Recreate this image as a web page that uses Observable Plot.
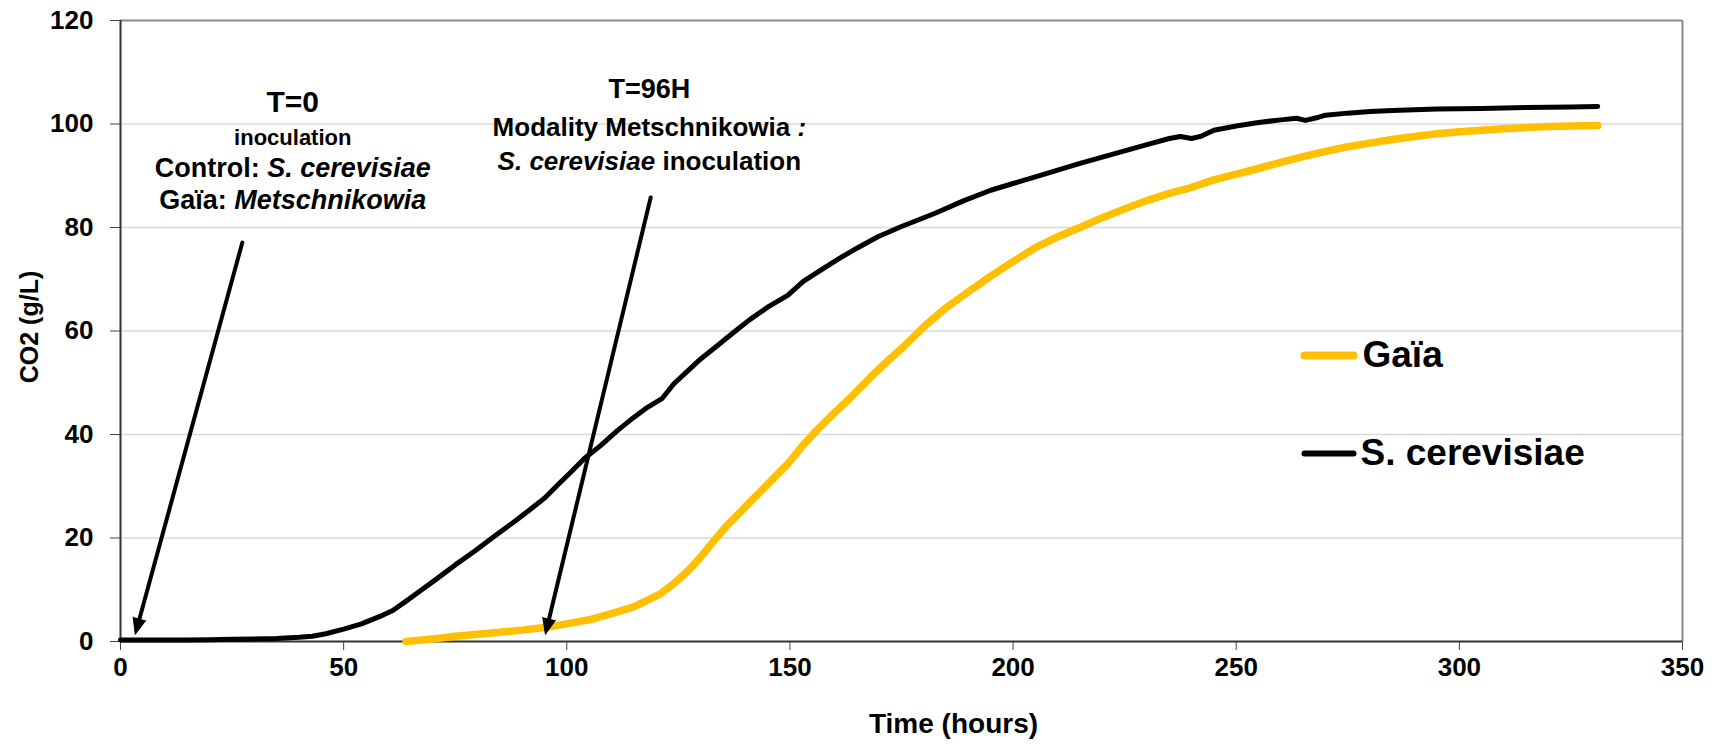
<!DOCTYPE html>
<html>
<head>
<meta charset="utf-8">
<script src="https://cdn.jsdelivr.net/npm/d3@7"></script>
<script src="https://cdn.jsdelivr.net/npm/@observablehq/plot@0.6"></script>
<style>
  html, body { margin: 0; padding: 0; background: #fff; }
  #chart { width: 1715px; height: 745px; }
</style>
</head>
<body>
<div id="chart"></div>
<script>
// ---------- data ----------
const seriesNames = ["Gaïa", "S. cerevisiae"];
const seriesColors = ["#FFC000", "#000000"];

const scTime = [0,5,10,15,20,25,30,35,40,43,46,50,54,58,61,64,67.5,71,75,79.4,84,88,91.5,95,98,101,104,107.5,111.4,115,118,121.4,124,127,130,133.5,137.5,141,145,149.5,153,157,161,165,169.7,175,182.4,189,195,200,205,210,215,220,225,230,235,237.5,240,242,245,250,255,260,263.5,265.5,268,270,275,280,285,295,305,315,325,331];
const scCO2 = [0.3,0.3,0.3,0.3,0.35,0.45,0.5,0.6,0.8,1.0,1.5,2.4,3.4,4.8,6.0,7.8,10,12.2,14.8,17.5,20.5,23,25.3,27.7,30.3,32.8,35.4,37.8,40.8,43.3,45.2,47,49.8,52.2,54.6,57,59.8,62.2,64.6,66.9,69.6,71.8,74,76,78.2,80.2,82.7,85.2,87.2,88.5,89.8,91.1,92.4,93.6,94.8,96,97.2,97.6,97.2,97.6,98.8,99.6,100.3,100.8,101.1,100.7,101.2,101.7,102.1,102.4,102.6,102.9,103.0,103.2,103.3,103.4];

const gaiaTime = [64,70,75,80,85,90,95,100,105,110,115,121,124,127,130,133,136,140,144,149.5,153,156,160,164,168,172,175,180,185,190,195,200,205,210,215,220,225,230,235,239,245,250,255,260,265,270,275,280,285,290,295,300,305,310,315,320,325,331];
const gaiaCO2 = [0,0.5,1.0,1.4,1.8,2.2,2.7,3.4,4.2,5.4,6.7,9.2,11.2,13.5,16.3,19.5,22.5,26,29.5,34.3,38,40.8,44.2,47.5,51,54.3,56.6,60.8,64.5,67.6,70.6,73.4,76.1,78.2,80.0,81.9,83.6,85.2,86.6,87.5,89.2,90.3,91.4,92.6,93.7,94.7,95.6,96.3,97,97.6,98.1,98.5,98.8,99.1,99.3,99.5,99.6,99.7];

const xTicks = [0,50,100,150,200,250,300,350];
const yTicks = [0,20,40,60,80,100,120];
const xLabel = "Time (hours)";
const yLabel = "CO2 (g/L)";

// annotation lines (text, anchor in data units: hours, g/L); *...* = italic
const noteText = ["T=0", "inoculation", "Control: *S. cerevisiae*", "Gaïa: *Metschnikowia*",
                  "T=96H", "Modality Metschnikowia *:*", "*S. cerevisiae* inoculation"];
const noteX = [38.6, 38.6, 38.6, 38.6, 118.5, 118.5, 118.5];
const noteY = [106.5, 98.9, 93.4, 87.3, 108.8, 101.3, 94.6];

// annotation arrows (from -> to, data units)
const arrowX1 = [27.3, 118.8];
const arrowY1 = [77.1, 85.8];
const arrowX2 = [3.3, 95.2];
const arrowY2 = [1.4, 1.4];

// ---------- build ----------
const W = 1715, H = 745;
const mL = 120, mR = 33, mT = 20, mB = 104;

const gaia = gaiaTime.map((t, i) => ({t, v: gaiaCO2[i], s: seriesNames[0]}));
const sc = scTime.map((t, i) => ({t, v: scCO2[i], s: seriesNames[1]}));
const notes = noteText.map((text, i) => ({text, x: noteX[i], y: noteY[i]}));
const arrows = arrowX1.map((x1, i) => ({x1, y1: arrowY1[i], x2: arrowX2[i], y2: arrowY2[i]}));

const xs = Plot.scale({x: {domain: [0, 350], range: [mL, W - mR]}});
const ys = Plot.scale({y: {domain: [0, 120], range: [H - mB, mT]}});
arrows.forEach(a => {
  const dx = xs.apply(a.x2) - xs.apply(a.x1);
  const dy = ys.apply(a.y2) - ys.apply(a.y1);
  a.angle = Math.atan2(dx, -dy) * 180 / Math.PI;
});

const noteSizes = [30, 22, 27, 27, 27, 26, 26];
const lineShape = { draw(context, l) { context.moveTo(0, 0); context.lineTo(0, -l); } };

const legendDx = [1242, 1240];
const legendDy = [335, 433];
const swatchWidth = [8, 6];

const plot = Plot.plot({
  width: W, height: H,
  marginLeft: mL, marginRight: mR, marginTop: mT, marginBottom: mB,
  style: {fontFamily: "'Liberation Sans', Arial, sans-serif", fontWeight: "bold", fontSize: "26px", background: "#fff", color: "#000", overflow: "visible"},
  x: {domain: [0, 350], ticks: xTicks},
  y: {domain: [0, 120], ticks: yTicks},
  marks: [
    Plot.gridY(yTicks.filter(v => v > 0), {stroke: "#d9d9d9", strokeOpacity: 1, strokeWidth: 1.5}),
    Plot.ruleX([350], {stroke: "#8c8c8c", strokeWidth: 2}),
    Plot.ruleY([120], {stroke: "#8c8c8c", strokeWidth: 2}),
    Plot.axisX(xTicks, {tickSize: 9, tickPadding: 7, label: null, stroke: "#444", fill: "#000", fontSize: 26}),
    Plot.axisY(yTicks, {tickSize: 10, tickPadding: 17, label: null, stroke: "#444", fill: "#000", fontSize: 26}),
    Plot.ruleX([0], {stroke: "#333", strokeWidth: 2}),
    Plot.ruleY([0], {stroke: "#333", strokeWidth: 2}),
    Plot.line(gaia, {x: "t", y: "v", stroke: seriesColors[0], strokeWidth: 7.5, strokeLinecap: "round", strokeLinejoin: "round"}),
    Plot.line(sc, {x: "t", y: "v", stroke: seriesColors[1], strokeWidth: 5, strokeLinecap: "round", strokeLinejoin: "round"}),
    Plot.arrow(arrows, {x1: "x1", y1: "y1", x2: "x2", y2: "y2", stroke: "#000", strokeWidth: 4, headLength: 0, insetEnd: 12}),
    Plot.vector(arrows, {x: "x2", y: "y2", rotate: "angle", length: 16, r: 6.5, shape: "spike", anchor: "end", fill: "#000", stroke: "#000", strokeWidth: 1}),
    ...notes.map((n, i) => Plot.text([n], {x: "x", y: "y", text: "text", textAnchor: "middle", lineAnchor: "top", fontSize: noteSizes[i], fontWeight: "bold", fill: "#000"})),
    ...seriesNames.map((name, i) => Plot.vector([name], {frameAnchor: "top-left", dx: 1184, dy: legendDy[i], length: 49, rotate: 90, anchor: "start", shape: lineShape, stroke: seriesColors[i], strokeWidth: swatchWidth[i], strokeLinecap: "round"})),
    ...seriesNames.map((name, i) => Plot.text([name], {frameAnchor: "top-left", dx: legendDx[i], dy: legendDy[i], textAnchor: "start", lineAnchor: "middle", fontSize: 37, fontWeight: "bold", fill: "#000"})),
    Plot.text([xLabel], {frameAnchor: "bottom", dx: 52, dy: 83, textAnchor: "middle", lineAnchor: "middle", fontSize: 28, fontWeight: "bold", fill: "#000"}),
    Plot.text([yLabel], {frameAnchor: "left", rotate: -90, dx: -91, dy: -4, textAnchor: "middle", lineAnchor: "middle", fontSize: 25, fontWeight: "bold", fill: "#000"})
  ]
});

// italic runs marked with *...*
const NS = "http://www.w3.org/2000/svg";
plot.querySelectorAll("text").forEach(t => {
  if (t.children.length === 0 && t.textContent.includes("*")) {
    const parts = t.textContent.split("*");
    t.textContent = "";
    parts.forEach((p, i) => {
      if (!p) return;
      const ts = document.createElementNS(NS, "tspan");
      ts.textContent = p;
      if (i % 2) ts.setAttribute("font-style", "italic");
      t.appendChild(ts);
    });
  }
});

document.getElementById("chart").appendChild(plot);
</script>
</body>
</html>
